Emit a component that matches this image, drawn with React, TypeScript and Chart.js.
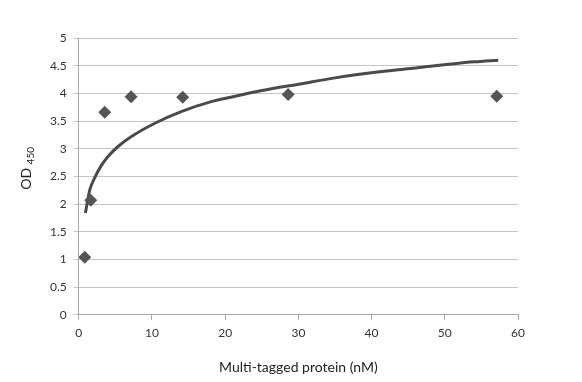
import React, { useEffect, useRef } from "react";
import { Chart, registerables } from "chart.js";

Chart.register(...registerables);

const measuredX = [0.82, 1.64, 3.55, 7.15, 14.2, 28.6, 57.1];
const measuredY = [1.04, 2.07, 3.66, 3.94, 3.93, 3.98, 3.95];

const fitX = [0.91, 1.5, 2.19, 3.1, 4.0, 5.37, 7.2, 10.4, 14.0, 18.1, 21.1, 25, 30.2, 35, 41.1, 46, 50.2, 54, 57.3];
const fitY = [1.84, 2.25, 2.48, 2.7, 2.86, 3.04, 3.22, 3.46, 3.67, 3.85, 3.94, 4.05, 4.17, 4.28, 4.39, 4.46, 4.52, 4.57, 4.6];

const xTitle = "Multi-tagged protein (nM)";
const yTitleMain = "OD";
const yTitleSub = "450";

const FONT = "Lato, 'Open Sans', sans-serif";

const yTitlePlugin = {
  id: "yTitle",
  afterDraw(chart: any) {
    const { ctx, chartArea } = chart;
    const cy = (chartArea.top + chartArea.bottom) / 2 - 8;
    ctx.save();
    ctx.translate(26, cy);
    ctx.rotate(-Math.PI / 2);
    ctx.fillStyle = "#222";
    ctx.textBaseline = "middle";
    ctx.textAlign = "left";
    ctx.font = "14px " + FONT;
    const w1 = ctx.measureText(yTitleMain + " ").width;
    ctx.font = "10px " + FONT;
    const w2 = ctx.measureText(yTitleSub).width;
    const total = w1 + w2;
    ctx.font = "14px " + FONT;
    ctx.fillText(yTitleMain + " ", -total / 2, 0);
    ctx.font = "10px " + FONT;
    ctx.fillText(yTitleSub, -total / 2 + w1, 5);
    ctx.restore();
  },
};

export default function App() {
  const ref = useRef<HTMLCanvasElement>(null);
  useEffect(() => {
    if (!ref.current) return;
    const chart = new Chart(ref.current, {
      type: "scatter",
      data: {
        datasets: [
          {
            label: "Measured",
            data: measuredX.map((x, i) => ({ x, y: measuredY[i] })),
            pointStyle: "rectRot",
            pointRadius: 6.5,
            backgroundColor: "#555555",
            borderColor: "#555555",
            borderWidth: 0,
            showLine: false,
          },
          {
            label: "Fit",
            data: fitX.map((x, i) => ({ x, y: fitY[i] })),
            showLine: true,
            pointRadius: 0,
            borderColor: "#4a4a4a",
            borderWidth: 3,
            cubicInterpolationMode: "monotone",
            fill: false,
          },
        ],
      },
      options: {
        animation: false,
        responsive: false,
        maintainAspectRatio: false,
        layout: { padding: { left: 43, right: 64, top: 38, bottom: 6 } },
        plugins: { legend: { display: false }, tooltip: { enabled: false } },
        scales: {
          x: {
            type: "linear",
            min: 0,
            max: 60,
            ticks: { stepSize: 10, color: "#333", font: { family: FONT, size: 12 }, padding: 6 },
            grid: { drawOnChartArea: false, drawTicks: true, tickLength: 5, color: "#a6a6a6" },
            border: { color: "#a6a6a6", width: 1 },
            title: { display: true, text: xTitle, color: "#222", font: { family: FONT, size: 14 }, padding: { top: 13, bottom: 0 } },
          },
          y: {
            type: "linear",
            min: 0,
            max: 5,
            ticks: {
              stepSize: 0.5,
              color: "#333",
              font: { family: FONT, size: 12 },
              padding: 7,
              callback: (v: any) => String(Number(v)),
            },
            grid: { color: "#c4c4c4", tickLength: 5, drawTicks: true },
            border: { color: "#a6a6a6", width: 1 },
          },
        },
      },
      plugins: [yTitlePlugin],
    } as any);
    return () => chart.destroy();
  }, []);
  return (
    <div style={{ position: "fixed", left: 0, top: 0, width: 582, height: 382, background: "#fff" }}>
      <canvas ref={ref} width={582} height={382} style={{ width: 582, height: 382 }} />
    </div>
  );
}
